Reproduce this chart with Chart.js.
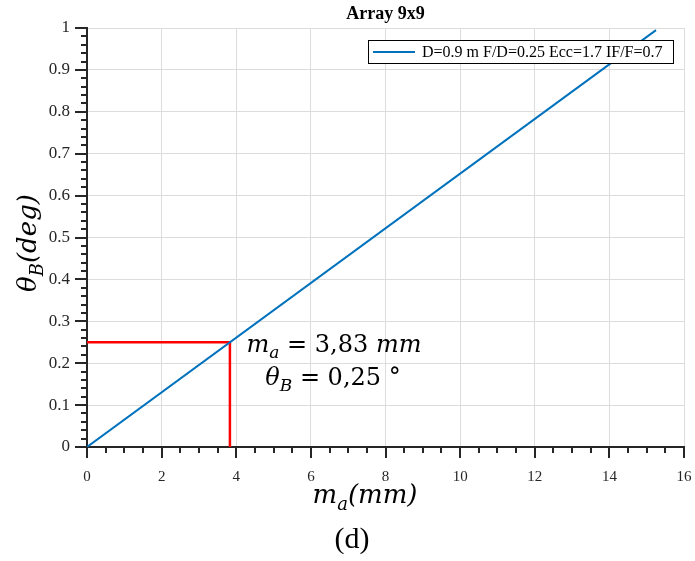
<!DOCTYPE html>
<html>
<head>
<meta charset="utf-8">
<script src="https://cdn.jsdelivr.net/npm/chart.js@4.4.1/dist/chart.umd.min.js"></script>
<style>
  html, body { margin: 0; padding: 0; background: #fff; }
  #wrap { width: 695px; height: 561px; }
</style>
</head>
<body>
<div id="wrap"><canvas id="myChart"></canvas></div>
<script>
// data
var lineX = [0, 15.25];
var lineY = [0, 0.995];
var markX = [0, 3.83, 3.83];
var markY = [0.25, 0.25, 0];
var xTicks = [0, 2, 4, 6, 8, 10, 12, 14, 16];
var yTicks = [0, 0.1, 0.2, 0.3, 0.4, 0.5, 0.6, 0.7, 0.8, 0.9, 1];
var legendText = 'D=0.9 m F/D=0.25 Ecc=1.7 IF/F=0.7';
var titleText = 'Array 9x9';

var serif = '"Liberation Serif", "Times New Roman", serif';
var mathFont = '"DejaVu Serif", serif';

function toPoints(xs, ys) {
    return xs.map(function (x, i) { return { x: x, y: ys[i] }; });
}

// draws text runs like m + subscript a on baseline y
function richText(ctx, runs, x, y, size, align) {
    var w = 0;
    runs.forEach(function (r) {
        ctx.font = (r.italic ? 'italic ' : '') + Math.round(size * (r.sub ? 0.7 : 1)) + 'px ' + mathFont;
        r.w = ctx.measureText(r.t).width;
        w += r.w;
    });
    var cx = align === 'center' ? x - w / 2 : x;
    ctx.textAlign = 'left';
    ctx.textBaseline = 'alphabetic';
    runs.forEach(function (r) {
        ctx.font = (r.italic ? 'italic ' : '') + Math.round(size * (r.sub ? 0.7 : 1)) + 'px ' + mathFont;
        ctx.fillText(r.t, cx, y + (r.sub ? size * 0.25 : 0));
        cx += r.w;
    });
}

var extras = {
    id: 'extras',
    afterDraw: function (chart) {
        var ctx = chart.ctx;
        var xs = chart.scales.x, ys = chart.scales.y;
        var area = chart.chartArea;
        ctx.save();

        // outward ticks, major and minor
        ctx.strokeStyle = '#262626';
        ctx.lineWidth = 2;
        ctx.beginPath();
        for (var v = 0; v <= 16.001; v += 0.5) {
            var px = Math.round(xs.getPixelForValue(v));
            var major = Math.abs(v / 2 - Math.round(v / 2)) < 1e-6;
            ctx.moveTo(px, area.bottom);
            ctx.lineTo(px, area.bottom + (major ? 11 : 6));
        }
        for (var k = 0; k <= 50; k++) {
            var py = Math.round(ys.getPixelForValue(k * 0.02));
            ctx.moveTo(area.left, py);
            ctx.lineTo(area.left - (k % 5 === 0 ? 12 : 6), py);
        }
        ctx.stroke();

        // title
        ctx.fillStyle = '#000';
        ctx.font = 'bold 18px ' + serif;
        ctx.textAlign = 'center';
        ctx.textBaseline = 'alphabetic';
        ctx.fillText(titleText, (area.left + area.right) / 2, 19);

        // legend box
        var lx = 368, ly = 40, lw = 305, lh = 23;
        ctx.fillStyle = '#fff';
        ctx.fillRect(lx, ly, lw, lh);
        ctx.strokeStyle = '#000';
        ctx.lineWidth = 1;
        ctx.strokeRect(lx + 0.5, ly + 0.5, lw, lh);
        ctx.strokeStyle = '#0072BD';
        ctx.lineWidth = 2;
        ctx.beginPath();
        ctx.moveTo(373, 52);
        ctx.lineTo(415, 52);
        ctx.stroke();
        ctx.fillStyle = '#000';
        ctx.font = '16px ' + serif;
        ctx.textAlign = 'left';
        ctx.fillText(legendText, 422, 57);

        // annotation
        ctx.fillStyle = '#000';
        richText(ctx, [{ t: 'm', italic: true }, { t: 'a', italic: true, sub: true }, { t: ' = 3,83 ' }, { t: 'mm', italic: true }], 334, 352, 24, 'center');
        richText(ctx, [{ t: '\u03B8', italic: true }, { t: 'B', italic: true, sub: true }, { t: ' = 0,25 \u00B0' }], 333, 385, 24, 'center');

        // axis titles
        richText(ctx, [{ t: 'm', italic: true }, { t: 'a', italic: true, sub: true }, { t: '(mm)', italic: true }], 365, 503, 26, 'center');
        ctx.save();
        ctx.translate(36, 243);
        ctx.rotate(-Math.PI / 2);
        richText(ctx, [{ t: '\u03B8', italic: true }, { t: 'B', italic: true, sub: true }, { t: '(deg)', italic: true }], 0, 0, 26, 'center');
        ctx.restore();

        // caption
        ctx.fillStyle = '#000';
        ctx.font = '30px ' + serif;
        ctx.textAlign = 'center';
        ctx.fillText('(d)', 352, 548);

        ctx.restore();
    }
};

new Chart(document.getElementById('myChart'), {
    type: 'scatter',
    data: {
        datasets: [{
            label: legendText,
            data: toPoints(lineX, lineY),
            showLine: true,
            borderColor: '#0072BD',
            borderWidth: 2,
            pointRadius: 0
        }, {
            label: 'marker',
            data: toPoints(markX, markY),
            showLine: true,
            borderColor: '#FF0000',
            borderWidth: 2.5,
            pointRadius: 0
        }]
    },
    options: {
        responsive: true,
        maintainAspectRatio: false,
        animation: false,
        layout: { padding: { top: 28, right: 11, left: 0, bottom: 0 } },
        plugins: {
            legend: { display: false },
            title: { display: false },
            tooltip: { enabled: false }
        },
        scales: {
            x: {
                type: 'linear',
                min: 0,
                max: 16,
                afterFit: function (scale) {
                    scale.height = 114;
                    scale.paddingLeft = 0;
                    scale.paddingRight = 0;
                },
                afterBuildTicks: function (scale) {
                    scale.ticks = xTicks.map(function (v) { return { value: v }; });
                },
                ticks: {
                    color: '#262626',
                    padding: 21,
                    font: { family: serif, size: 15 },
                    maxRotation: 0
                },
                grid: { color: '#dcdcdc', lineWidth: 1, drawTicks: false },
                border: { color: '#262626', width: 2 }
            },
            y: {
                type: 'linear',
                min: 0,
                max: 1,
                afterFit: function (scale) {
                    scale.width = 87;
                    scale.paddingTop = 0;
                    scale.paddingBottom = 0;
                },
                afterBuildTicks: function (scale) {
                    scale.ticks = yTicks.map(function (v) { return { value: v }; });
                },
                ticks: {
                    color: '#262626',
                    padding: 17,
                    font: { family: serif, size: 17 },
                    callback: function (v) { return String(+v.toFixed(2)); }
                },
                grid: { color: '#dcdcdc', lineWidth: 1, drawTicks: false },
                border: { color: '#262626', width: 2 }
            }
        }
    },
    plugins: [extras]
});
</script>
</body>
</html>
